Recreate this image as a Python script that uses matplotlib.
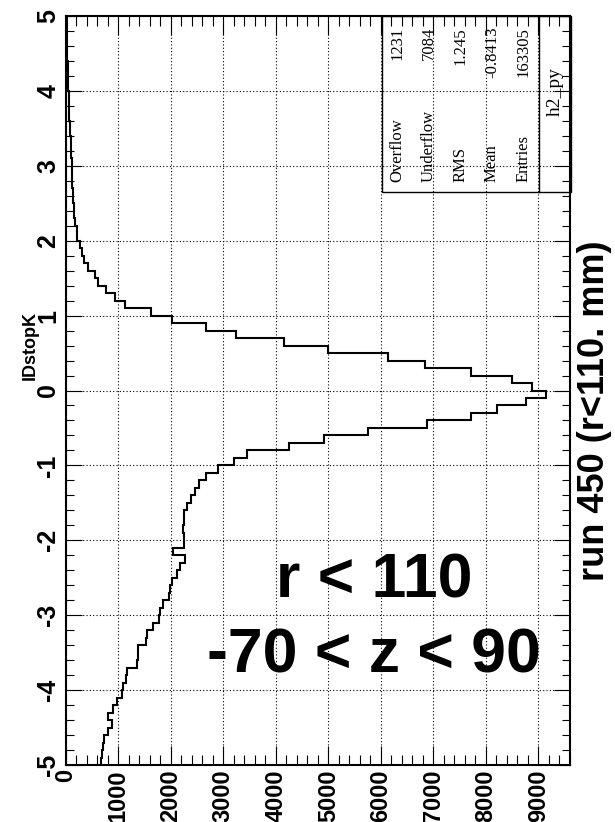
import matplotlib
matplotlib.use("Agg")
import matplotlib.pyplot as plt
from matplotlib.patches import Rectangle
from matplotlib.lines import Line2D
import numpy as np

# histogram h2_py : 100 bins of 0.1 from -5 to 5 (counts)
bin_edges = np.round(np.arange(-5.0, 5.01, 0.1), 1)
counts_neg = [670, 680, 700, 725, 810, 870, 810, 905, 980, 1065,
              1095, 1145, 1170, 1350, 1370, 1380, 1530, 1540, 1650, 1765,
              1795, 1845, 1955, 1985, 2020, 2115, 2180, 2275, 2040, 2255,
              2255, 2230, 2255, 2255, 2305, 2380, 2450, 2540, 2675, 2890,
              3195, 3455, 4245, 4925, 5760, 6880, 7725, 8215, 8775, 9150]
counts_pos = [8880, 8505, 7725, 6845, 6130, 5000, 4155, 3250, 2660, 2030,
              1625, 1130, 930, 755, 607, 550, 425, 350, 300, 270,
              215, 205, 167, 147, 147, 141, 135, 122, 122, 115,
              109, 103, 96, 90, 77, 71, 64, 58, 58, 51,
              45, 45, 38, 32, 26, 26, 19, 19, 13, 13]
counts = np.array(counts_neg + counts_pos)

count_ticks = list(range(0, 9001, 1000))
idstop_ticks = list(range(-5, 6))

hist_name = "h2_py"
stat_names = ["Entries", "Mean", "RMS", "Underflow", "Overflow"]
stat_values = ["163305", "-0.8413", "1.245", "7084", "1231"]
title = "run 450 (r<110. mm)"
cut_lines = ["r < 110", "-70 < z < 90"]

plt.rcParams['font.family'] = ['Liberation Sans', 'DejaVu Sans']
plt.rcParams['font.weight'] = 'bold'
plt.rcParams['axes.unicode_minus'] = False

W, H = 615, 822
fig = plt.figure(figsize=(W / 100, H / 100), dpi=100)


def px(x, y):
    # figure pixel (from top-left) -> figure fraction
    return x / W, 1 - y / H


left, right, top, bottom = 66, 570, 16, 765
ax = fig.add_axes([left / W, 1 - bottom / H, (right - left) / W, (bottom - top) / H])

# the picture is the ROOT canvas flipped over its diagonal: counts run left->right
ax.stairs(counts, bin_edges, orientation='horizontal', baseline=None,
          color='black', linewidth=1.5, zorder=3)

ax.set_xlim(0, counts.max() * 1.05)
ax.set_ylim(-5, 5)

ax.set_xticks(count_ticks)
ax.set_xticks(np.arange(0, 9601, 200), minor=True)
ax.set_yticks(idstop_ticks)
ax.set_yticks(np.arange(-5, 5.01, 0.2), minor=True)

ax.grid(True, which='major', color='black', linestyle=(0, (1, 2)), linewidth=0.8)
ax.set_axisbelow(True)

ax.tick_params(which='both', direction='in', top=True, right=True, width=0.8, colors='black')
ax.tick_params(axis='x', which='major', length=14, labelsize=17, labelrotation=90, pad=3)
ax.tick_params(axis='x', which='minor', length=7)
ax.tick_params(axis='y', which='major', length=11.5, labelsize=18, labelrotation=90, pad=4)
ax.tick_params(axis='y', which='minor', length=5.8)
for lab in ax.get_yticklabels():
    lab.set_va('center')

for sp in ax.spines.values():
    sp.set_linewidth(1.5)

# axis title, between the "1" and "0" labels
fig.text(*px(30, 345), "IDstopK", rotation=90, ha='center', va='center', fontsize=13)

# canvas title
fig.text(*px(595, 411), title, rotation=90, ha='center', va='center', fontsize=26)

# stats box (transparent, grid shows through)
bx0, bx1, by0, by1 = 382, 571, 16, 192
fig.add_artist(Rectangle(px(bx0, by1), (bx1 - bx0) / W, (by1 - by0) / H,
                         transform=fig.transFigure, fill=False,
                         edgecolor='black', linewidth=1.0, zorder=5))
sep = 539
fig.add_artist(Line2D([sep / W, sep / W], [1 - by0 / H, 1 - by1 / H],
                      transform=fig.transFigure, color='black', linewidth=1.0, zorder=5))
fig.text(*px(555, 92), hist_name, rotation=90, ha='center', va='center',
         family='Liberation Serif', fontweight='normal', fontsize=14)
row_w = (sep - bx0) / len(stat_names)
for i, (name, val) in enumerate(zip(stat_names, stat_values)):
    xr = sep - row_w * (i + 0.5)
    fig.text(*px(xr, 182), name, rotation=90, rotation_mode='anchor', ha='left', va='center',
             family='Liberation Serif', fontweight='normal', fontsize=12)
    fig.text(*px(xr, 27), val, rotation=90, rotation_mode='anchor', ha='right', va='center',
             family='Liberation Serif', fontweight='normal', fontsize=12)

# cut labels
fig.text(*px(374, 597), cut_lines[0], ha='center', va='baseline', fontsize=45)
fig.text(*px(374, 672), cut_lines[1], ha='center', va='baseline', fontsize=45)

fig.savefig("out.png", dpi=100)
